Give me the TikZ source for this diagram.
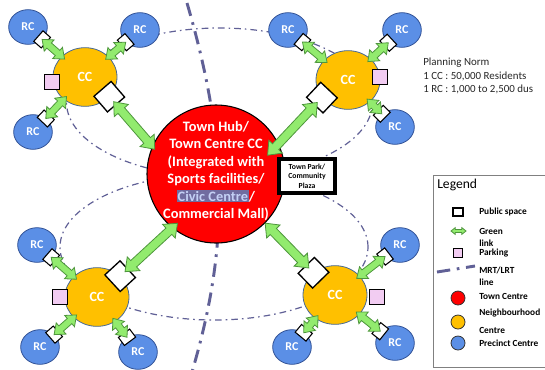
\documentclass[tikz,border=0pt]{standalone}
\usepackage{fontspec}
\setmainfont{Carlito}
\usetikzlibrary{calc,shapes.geometric}

\definecolor{mrt}{RGB}{96,96,150}
\definecolor{ccorange}{RGB}{255,192,0}
\definecolor{ccedge}{RGB}{70,105,150}
\definecolor{rcblue}{RGB}{91,143,230}
\definecolor{rcedge}{RGB}{50,82,150}
\definecolor{linkfill}{RGB}{146,235,110}
\definecolor{linkedge}{RGB}{78,150,60}
\definecolor{parkpink}{RGB}{242,204,242}
\definecolor{civicbg}{RGB}{112,108,160}
\definecolor{civictext}{RGB}{196,208,245}

% fat green double arrow, #1 = size factor
\newcommand{\glink}[3]{%
  \coordinate (gA) at (#2);
  \coordinate (gB) at (#3);
  \coordinate (gAh) at ($(gA)!#1*7pt!(gB)$);
  \coordinate (gBh) at ($(gB)!#1*7pt!(gA)$);
  \filldraw[greenlink] (gA) -- ($(gAh)!#1*5.6pt!90:(gB)$) -- ($(gAh)!#1*2.6pt!90:(gB)$)
    -- ($(gBh)!#1*2.6pt!-90:(gA)$) -- ($(gBh)!#1*5.6pt!-90:(gA)$) -- (gB)
    -- ($(gBh)!#1*5.6pt!90:(gA)$) -- ($(gBh)!#1*2.6pt!90:(gA)$)
    -- ($(gAh)!#1*2.6pt!-90:(gB)$) -- ($(gAh)!#1*5.6pt!-90:(gB)$) -- cycle;
}
\newcommand{\civicmark}[1]{{\setlength{\fboxsep}{0.6pt}\colorbox{civicbg}{\textcolor{civictext}{#1}}}}

\begin{document}
\begin{tikzpicture}[x=0.75pt,y=-0.75pt,
    town/.style={circle,fill=red,draw=black,line width=0.8pt,minimum size=103.5pt,inner sep=0pt},
    townlbl/.style={text=white,align=center,inner sep=0pt,font=\bfseries\fontsize{10.8}{13.1}\selectfont},
    cc/.style={ellipse,fill=ccorange,draw=ccedge,line width=0.6pt,minimum width=48pt,minimum height=44pt,
      inner sep=0pt,text=white,font=\bfseries\fontsize{10.5}{12}\selectfont},
    rc/.style={ellipse,fill=rcblue,draw=rcedge,line width=0.6pt,minimum width=29pt,minimum height=26pt,
      inner sep=0pt,text=white,font=\bfseries\fontsize{9}{11}\selectfont},
    pubsmall/.style={draw=black,fill=white,line width=0.8pt,minimum width=7.5pt,minimum height=10.5pt,inner sep=0pt},
    pubbig/.style={draw=black,fill=white,line width=1pt,minimum width=15.5pt,minimum height=17pt,inner sep=0pt},
    parking/.style={draw=black,fill=parkpink,line width=0.8pt,minimum size=11pt,inner sep=0pt},
    plazabox/.style={draw=black,fill=white,line width=2.3pt,minimum width=42pt,minimum height=25.5pt,
      inner sep=1pt,align=center,font=\bfseries\fontsize{5.8}{7.1}\selectfont},
    mrtline/.style={mrt,line width=2.2pt,dash pattern=on 10pt off 5pt on 2pt off 5pt},
    ringline/.style={mrt,line width=0.9pt,dash pattern=on 5pt off 3pt on 1.2pt off 3pt},
    greenlink/.style={fill=linkfill,draw=linkedge,line width=0.6pt},
    legtext/.style={anchor=west,inner sep=0pt,align=left,font=\bfseries\fontsize{7}{9}\selectfont},
    legdot/.style={circle,draw=black!80,line width=0.6pt,minimum size=10.5pt,inner sep=0pt}]
  \useasboundingbox (0,0) rectangle (545,369);
  % rings of the neighbourhoods
  \draw[ringline] (219.5,102.4) ellipse [x radius=114.75pt,y radius=55.8pt];
  \draw[ringline] (214,247) ellipse [x radius=115.5pt,y radius=54.75pt];
  \draw[mrtline] (187,3) .. controls (230,150) and (228,250) .. (192,372); % MRT/LRT line

  \node[town] (town) at (216,174) {};
  \node[townlbl] (townlbl) at (216,171) {Town Hub/\\Town Centre CC\\(Integrated with\\Sports facilities/\\
    \civicmark{Civic Centre}/\\Commercial Mall)};
  \node[plazabox] (plaza) at (307,176) {Town Park/\\Community\\Plaza};

  \node[cc] (cc1) at (85,77) {CC};
  \node[cc] (cc2) at (348,80) {CC};
  \node[cc] (cc3) at (97,297) {CC};
  \node[cc] (cc4) at (335,295) {CC};

  \node[rc] (rca) at (28,27) {RC};
  \node[rc] (rcb) at (140,30) {RC};
  \node[rc] (rcc) at (33,132) {RC};
  \node[rc] (rcd) at (288,30) {RC};
  \node[rc] (rce) at (402,30) {RC};
  \node[rc] (rcf) at (395,127) {RC};
  \node[rc] (rcg) at (37,245) {RC};
  \node[rc] (rch) at (40,347) {RC};
  \node[rc] (rci) at (138,352) {RC};
  \node[rc] (rcj) at (400,245) {RC};
  \node[rc] (rck) at (292,347) {RC};
  \node[rc] (rcl) at (395,343) {RC};

  \node[parking] (park1) at (52,82) {};
  \node[parking] (park2) at (380,77) {};
  \node[parking] (park3) at (60,297) {};
  \node[parking] (park4) at (377,297) {};

  % RC -- CC green links with public space
  \foreach \r/\c in {rca/cc1,rcb/cc1,rcc/cc1,rcd/cc2,rce/cc2,rcf/cc2,
                     rcg/cc3,rch/cc3,rci/cc3,rcj/cc4,rck/cc4,rcl/cc4}{
    \path (\r) -- (\c) node[pos=0,sloped,pubsmall] (p\r) {} coordinate[pos=1] (e\r);
    \glink{1}{p\r.center}{$(e\r)!3pt!(\c)$}
  }
  % CC -- town hub green links
  \foreach \c/\b/\a/\f [count=\i] in {cc1/-39/158/0.95,cc2/214/20/0.79,cc3/42/232/0.9,cc4/134/315/1.0}{
    \coordinate (t\i) at ($(town.center)!\f!(town.\a)$);
    \path (\c.\b) -- (t\i) node[pos=0,sloped,pubbig] (q\i) {};
    \glink{1.25}{$(q\i)!5pt!(t\i)$}{t\i}
  }

  \node[anchor=north west,inner sep=0pt,align=left,text=black!85,font=\fontsize{8.2}{10.1}\selectfont]
    (norm) at (423,58) {Planning Norm\\1 CC : 50,000 Residents\\1 RC : 1,000 to 2,500 dus};

  % legend
  \draw[gray,line width=0.6pt] (433,175) rectangle (570,367);
  \node[anchor=west,inner sep=0pt,font=\fontsize{10.2}{12}\selectfont] (legtitle) at (437,185) {Legend};
  \node[draw=black,fill=white,line width=1pt,minimum width=7.5pt,minimum height=6pt,inner sep=0pt] (legpub) at (458,212) {};
  \node[legtext] (legpubtxt) at (479,212) {Public space};
  \coordinate (legla) at (451,231);
  \coordinate (leglb) at (466,231);
  \glink{0.45}{legla}{leglb}
  \node[legtext] (leglinktxt) at (479,237) {Green\\link};
  \node[parking,minimum size=7pt] (legpark) at (458,253) {};
  \node[legtext] (legparktxt) at (479,253) {Parking};
  \coordinate (legma) at (437,272);
  \coordinate (legmb) at (475,266);
  \draw[mrtline] (legma) -- (legmb);
  \node[legtext] (legmrttxt) at (479,276) {MRT/LRT\\line};
  \node[legdot,fill=red] (legtown) at (458,298) {};
  \node[legtext] (legtowntxt) at (479,296) {Town Centre};
  \node[legdot,fill=ccorange] (legcc) at (458,322) {};
  \node[legtext] (legcctxt) at (479,321.5) {Neighbourhood\\[4.5pt]Centre};
  \node[legdot,fill=rcblue] (legrc) at (458,343) {};
  \node[legtext] (legrctxt) at (479,343) {Precinct Centre};
\end{tikzpicture}
\end{document}
